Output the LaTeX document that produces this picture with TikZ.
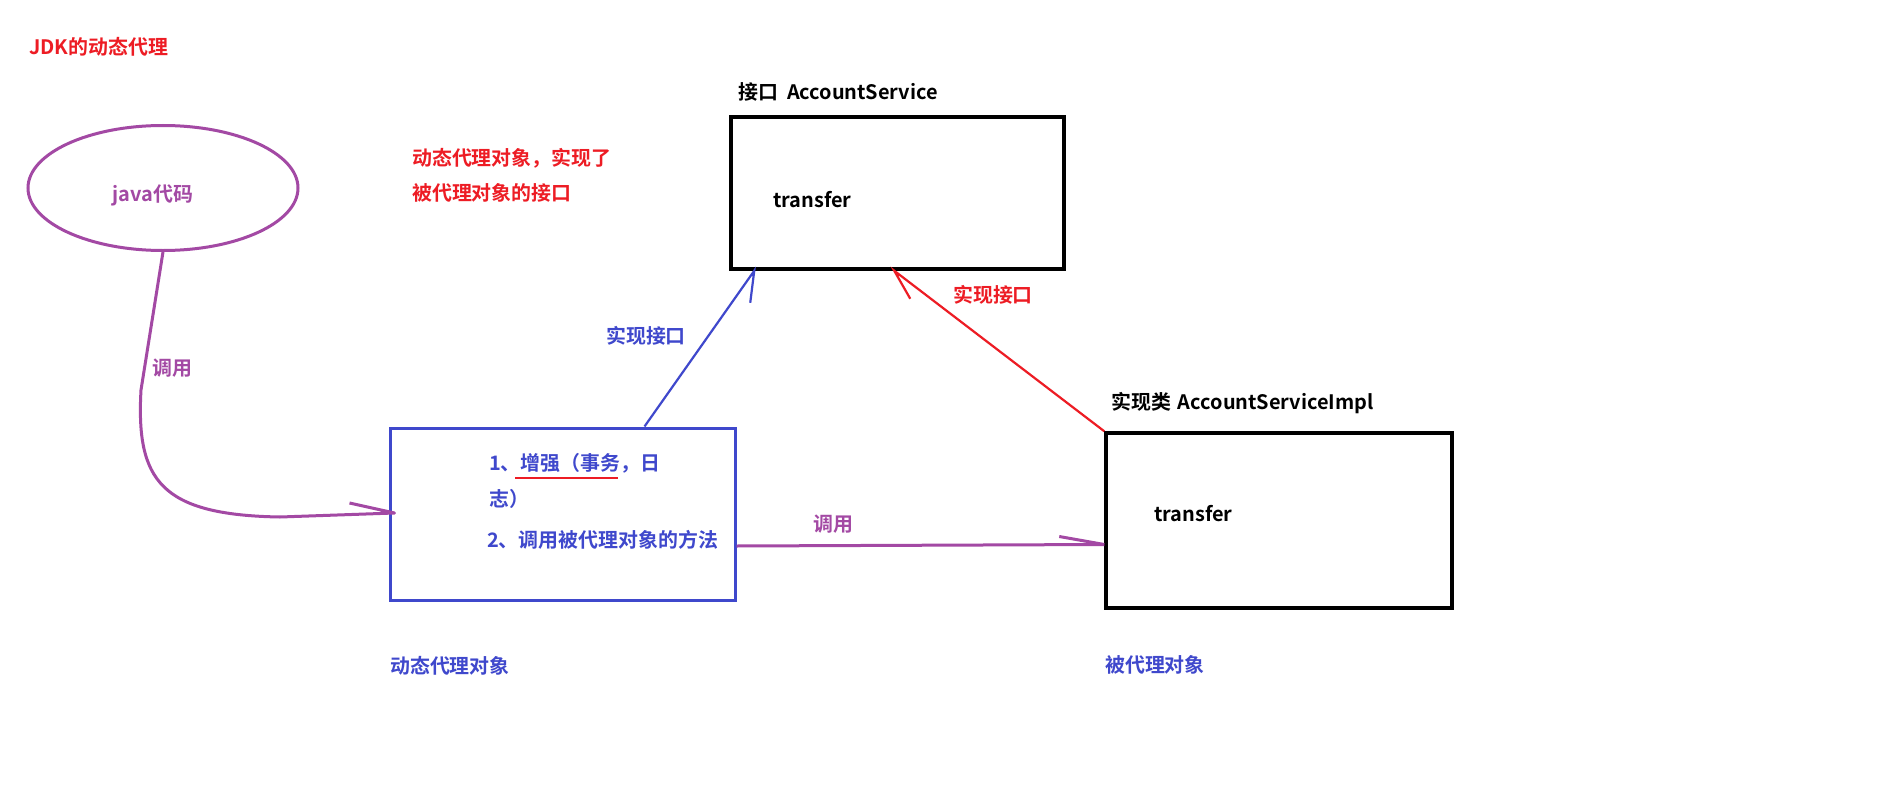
\documentclass[tikz,border=0pt]{standalone}
\usepackage{fontspec}
\setmainfont{Noto Sans CJK SC}[BoldFont={* Bold}]
\usetikzlibrary{shapes.geometric,calc}
\definecolor{pred}{HTML}{ED1C24}
\definecolor{ppur}{HTML}{A349A4}
\definecolor{pblue}{HTML}{3F48CC}
\tikzset{
  txt/.style={font=\bfseries\fontsize{20}{24}\selectfont, inner sep=0pt, anchor=west},
  boxk/.style={draw=black, line width=3.5bp, minimum width=#1, inner sep=0pt},
  redline/.style={draw=pred, line width=2.2bp},
  blueline/.style={draw=pblue, line width=2.2bp},
  purline/.style={draw=ppur, line width=3bp},
}
\begin{document}
\begin{tikzpicture}[x=1bp,y=-1bp]
\fill[white] (0,0) rectangle (1895,812);
\useasboundingbox (0,0) rectangle (1895,812);

% title and notes
\node[txt, text=pred] (title) at (29,47) {JDK的动态代理};
\node[txt, text=pred] (note1) at (412,158) {动态代理对象，实现了};
\node[txt, text=pred] (note2) at (412,193) {被代理对象的接口};

% java code ellipse
\node[ellipse, draw=ppur, line width=3bp, minimum width=270bp, minimum height=125bp, inner sep=0pt] (java) at (163,188) {};
\node[txt, text=ppur, anchor=center] (javat) at (153,195) {java代码};

% interface box
\node[txt] (ifacet) at (738,92) {接口\hspace{0.45em}AccountService};
\node[boxk=333bp, minimum height=152bp] (iface) at (897.5,193) {};
\node[txt] (ifacem) at (773,200) {transfer};

% proxy box
\node[draw=pblue, line width=3bp, minimum width=345bp, minimum height=172bp, inner sep=0pt] (proxy) at (562.5,514) {};
\node[txt, text=pblue] (p1) at (489,463) {1、增强（事务，日};
\node[txt, text=pblue] (p2) at (489,499) {志）};
\node[txt, text=pblue] (p3) at (487,540) {2、调用被代理对象的方法};
\draw[redline] (515,478) -- (618,478);
\node[txt, text=pblue] (proxyl) at (390,666) {动态代理对象};

% implementation box
\node[txt] (implt) at (1111,403) {实现类\hspace{0.35em}AccountServiceImpl};
\node[boxk=346bp, minimum height=175bp] (impl) at (1279,520.5) {};
\node[txt] (implm) at (1154,514) {transfer};
\node[txt, text=pblue] (impll) at (1105,665) {被代理对象};

% connector endpoints
\coordinate (bstart) at ([xshift=256bp]proxy.north west);
\coordinate (btip) at ([xshift=25bp]iface.south west);
\coordinate (rtip) at ([xshift=165bp]iface.south west);
\coordinate (pstart) at ([yshift=-32bp]proxy.east);
\coordinate (ptip) at ([yshift=-24bp]impl.west);
\coordinate (ctip) at ([xshift=6bp,yshift=1bp]proxy.west);

% blue: proxy implements interface
\draw[blueline] (bstart) -- (btip) -- ++(-4,32);
\node[txt, text=pblue] (bl) at (606,336) {实现接口};

% red: impl implements interface
\draw[redline] (impl.north west) -- (rtip) -- ++(16,28);
\node[txt, text=pred] (rl) at (953,295) {实现接口};

% purple: java code calls proxy
\draw[purline, line join=round] (java.south) -- (141,390) .. controls (136,480) and (160,515) .. (280,517) -- (ctip) -- ++(-45,-10);
\node[txt, text=ppur] (cl1) at (152,368) {调用};

% purple: proxy calls target
\draw[purline] (pstart) -- (ptip) -- ++(-45,-8);
\node[txt, text=ppur] (cl2) at (813,524) {调用};
\end{tikzpicture}
\end{document}
